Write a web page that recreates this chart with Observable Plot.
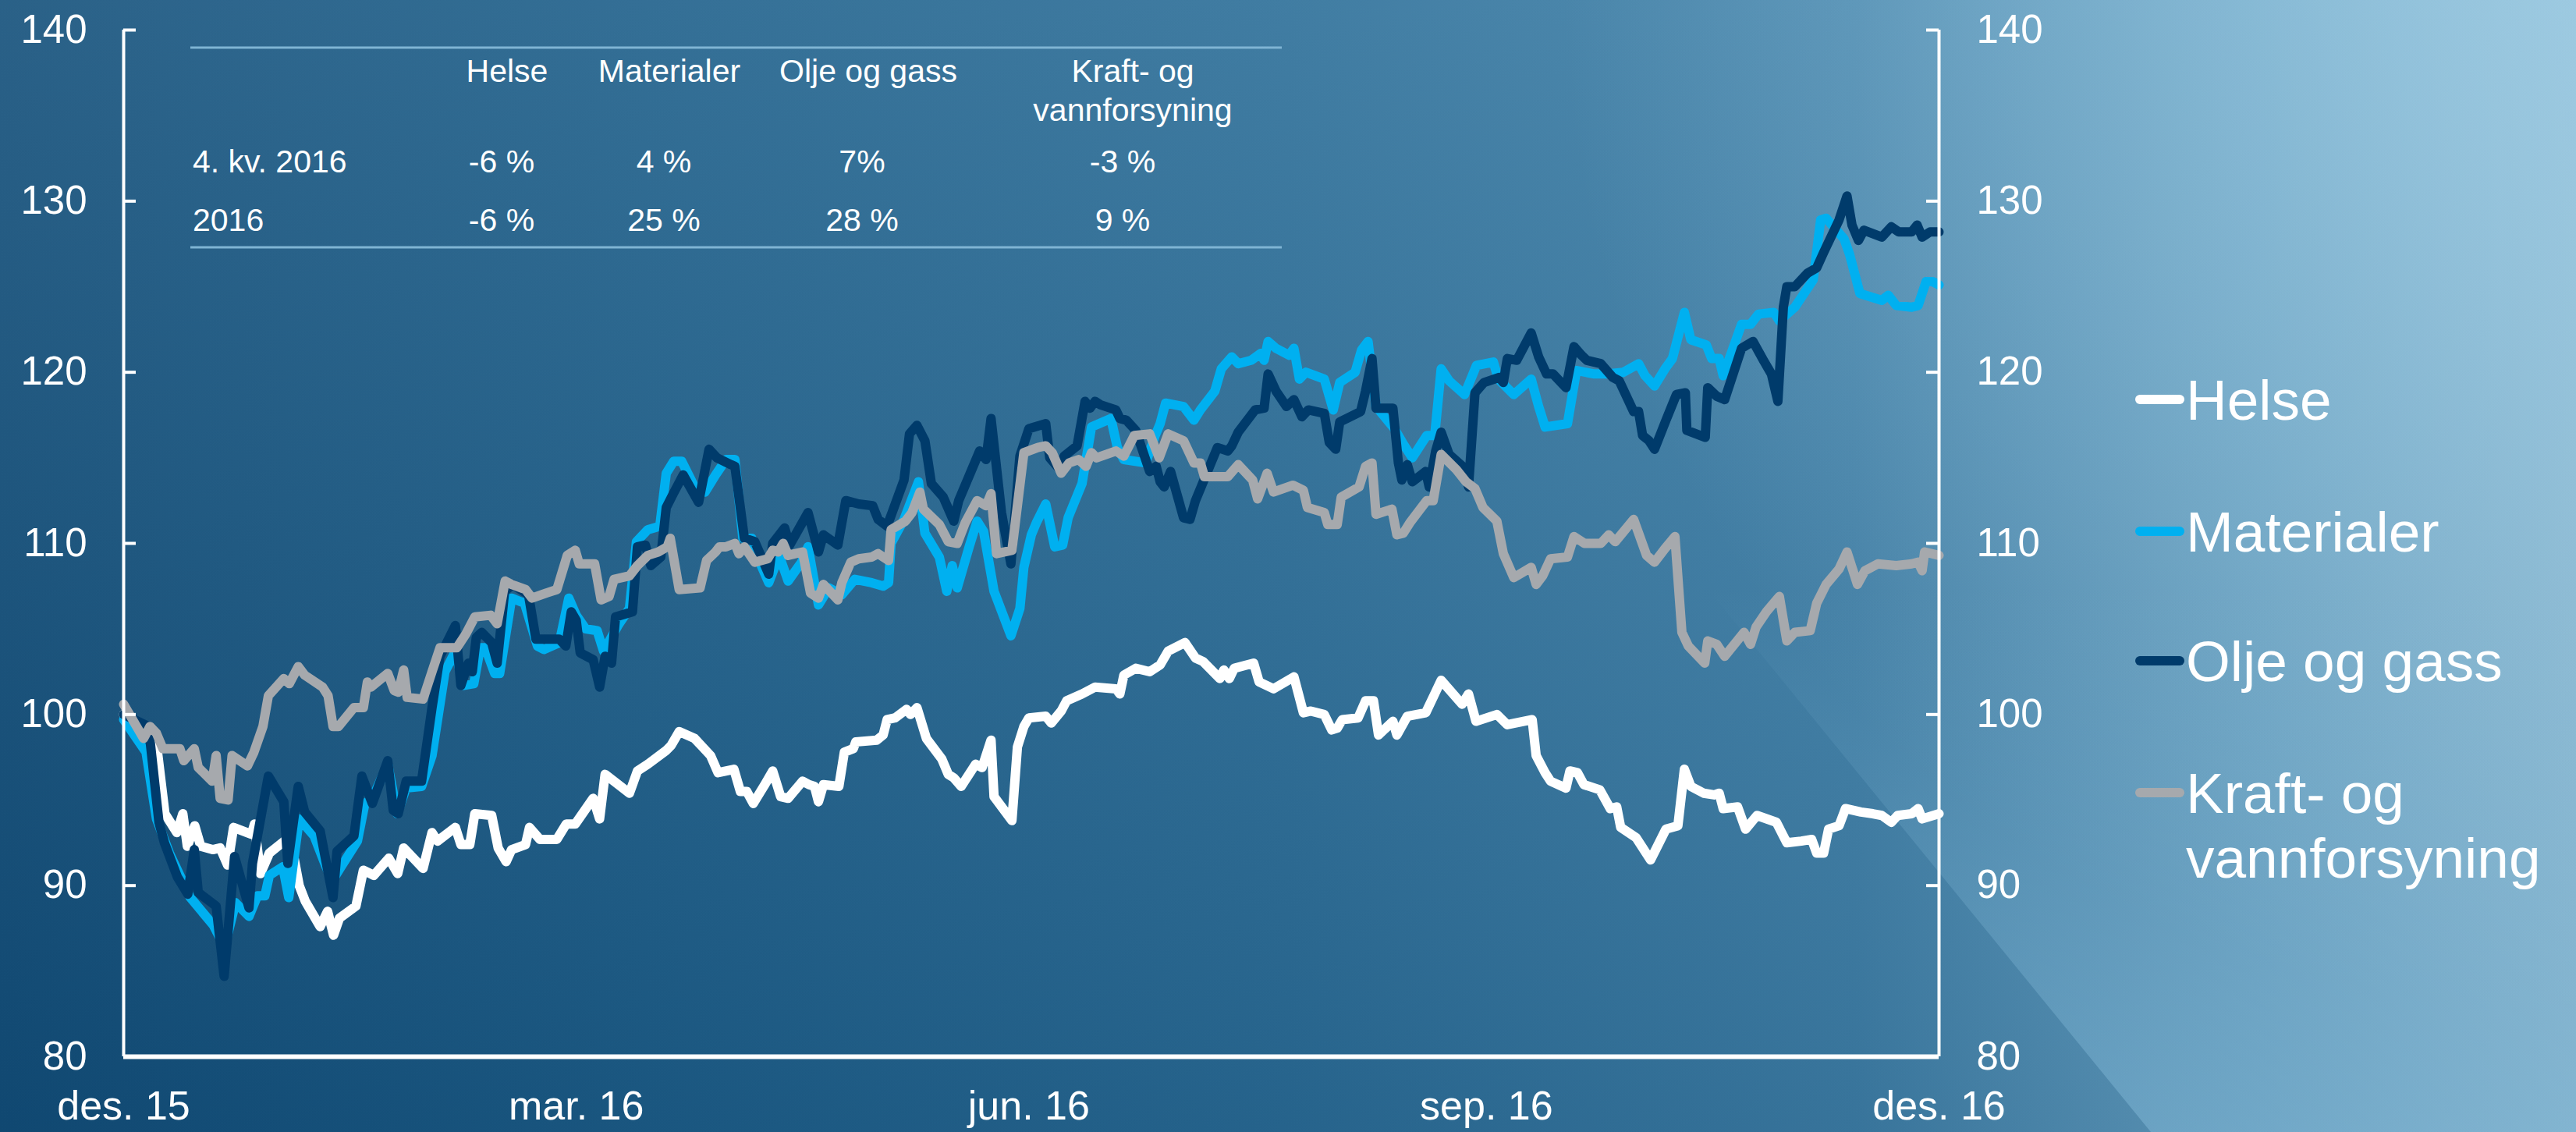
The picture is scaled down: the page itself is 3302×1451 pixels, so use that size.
<!DOCTYPE html>
<html><head><meta charset="utf-8">
<script src="https://cdn.jsdelivr.net/npm/d3@7"></script>
<script src="https://cdn.jsdelivr.net/npm/@observablehq/plot@0.6"></script>
<style>
html,body{margin:0;padding:0;}
body{width:3302px;height:1451px;overflow:hidden;position:relative;font-family:"Liberation Sans",Arial,sans-serif;
background:
 radial-gradient(circle at 100% 0%, rgba(160,205,228,0.55) 0px, rgba(160,205,228,0) 1300px),
 linear-gradient(to bottom, rgba(255,255,255,0.10), rgba(0,20,50,0.12)),
 linear-gradient(to right, #124f7a 0%, #1d5f8a 25%, #2b6e98 50%, #3f81a9 72%, #6aa6c7 88%, #8dbfd9 100%);}
#shade{position:absolute;left:0;top:0;width:3302px;height:1451px;clip-path:polygon(1573px 0,3302px 0,3302px 1451px,2757px 1451px);background:linear-gradient(to bottom, rgba(140,195,225,0) 52%, rgba(140,195,225,0.42) 100%);}
#chart{position:absolute;left:0;top:0;}
#overlay{position:absolute;left:0;top:0;}
</style></head>
<body>
<div id="shade"></div>
<div id="chart"></div>
<svg id="overlay" width="3302" height="1451"></svg>
<script>
// Day offsets since 31.12.2015, index value (31.12.2015 = 100)
const helse = [[0,100],[3,99.4],[5.3,98.9],[6.6,98.3],[8.3,94.2],[10.7,93.1],[11.9,94.2],[12.8,92.3],[14.3,93.5],[15.5,92.3],[17.9,92.1],[19.4,92.2],[20.9,91.2],[22.1,93.4],[25.7,93],[26.3,93.6],[27.5,90.7],[29.3,91.9],[32.3,92.6],[33.5,92.8],[35.3,90],[36.5,89.1],[39.5,87.6],[41,88.5],[42.2,87.1],[43.4,88.1],[46.7,88.8],[48.2,90.9],[50.3,90.6],[53.3,91.6],[55.1,90.7],[56.3,92.2],[60.2,91],[62,93.1],[63.1,92.6],[66.7,93.4],[67.8,92.4],[69.6,92.4],[70.6,94.2],[74,94.1],[75.3,92.2],[76.9,91.4],[78,92.1],[80.8,92.4],[81.6,93.4],[83.7,92.7],[87.1,92.7],[89,93.6],[90.8,93.6],[94.4,95.1],[95.7,93.9],[96.8,96.5],[101.7,95.4],[103.3,96.7],[105.4,97.1],[109.1,97.9],[110.1,98.2],[111.7,99],[114.8,98.6],[116.4,98.1],[118,97.6],[119.5,96.6],[122.7,96.8],[124,95.5],[125.3,95.5],[126.6,94.8],[128.9,95.9],[130.5,96.7],[132.1,95.2],[133.6,95.1],[136.5,96.1],[137.8,95.9],[138.9,95.8],[139.7,94.9],[140.7,95.9],[143.8,95.8],[144.9,97.8],[146.7,98],[147.2,98.4],[151.4,98.5],[152.7,98.8],[153.5,99.7],[155.1,99.8],[157.4,100.3],[158.2,100],[159.5,100.4],[161.4,98.6],[164.5,97.4],[165.8,96.5],[166.9,96.3],[168.4,95.8],[171.3,97.1],[172.6,96.9],[174.4,98.5],[175,95.2],[178.6,93.8],[179.7,98.1],[181,99.3],[182,99.8],[185.4,99.9],[186.5,99.5],[188.5,100.2],[189.6,100.8],[192.7,101.2],[195.3,101.6],[199.5,101.5],[200.3,101.2],[201.1,102.3],[203.5,102.7],[206.3,102.5],[208.4,102.9],[210,103.7],[213.4,104.2],[215.5,103.3],[217,103.1],[220.4,102.1],[221.2,102.6],[222.3,102.1],[223.3,102.7],[227.2,103],[228.3,101.9],[231.2,101.5],[235.3,102.2],[237.2,100.1],[238.7,100.2],[241.4,100],[242.9,99.1],[244,99.2],[245,99.7],[248.2,99.8],[249.7,100.8],[251.3,100.8],[252.3,98.8],[255.2,99.6],[256,98.8],[258.1,99.9],[261.8,100.1],[263.6,101.2],[264.9,102],[269.1,100.6],[270.4,101.2],[271.9,99.6],[276.1,100],[278.2,99.4],[283.2,99.7],[284,97.6],[285.8,96.6],[286.9,96.1],[290,95.7],[290.8,96.7],[292.3,96.6],[293.6,95.9],[296.8,95.6],[298.9,94.5],[300.2,94.6],[301,93.4],[304.1,92.8],[307,91.5],[310.1,93.3],[312.5,93.5],[313.8,96.8],[315.1,95.8],[317.7,95.4],[319.8,95.3],[320.8,95.4],[321.6,94.5],[324.5,94.6],[326.1,93.3],[328.4,94.1],[332.3,93.7],[334.4,92.5],[337.3,92.6],[339.4,92.7],[340.4,91.9],[341.8,91.9],[342.8,93.3],[344.9,93.5],[346.2,94.5],[349.3,94.3],[351.7,94.2],[353.5,94.1],[355.4,93.7],[356.7,94.1],[359.5,94.2],[360.8,94.5],[361.6,93.9],[365,94.2]];

const materialer = [[0,99.7],[4.5,97.8],[6.6,93.9],[9.2,91.9],[13.4,89.3],[18,87.7],[20.3,86.4],[22.5,89],[25.2,88.2],[26.9,89.4],[28.4,89.4],[29.3,90.6],[32,91.1],[33.2,89.3],[35.3,93.9],[38.3,92.9],[40.7,91.1],[42,90.3],[43.7,91.1],[47,92.6],[48.5,94.8],[50,95.1],[53.1,97.1],[55,94.2],[56.8,95.7],[59.9,95.8],[62,97.6],[64.6,102.5],[66.7,103.7],[68.3,101.7],[70.4,101.8],[71.7,103.9],[72.7,103.9],[74.6,102.4],[75.6,102.4],[78,106.8],[80.6,106.5],[83.2,104],[84.5,103.8],[87.6,104.2],[89.5,106.8],[91,105.8],[92.9,105],[95.2,104.9],[96.5,103.7],[99.4,105.2],[101.7,106.2],[103.1,110.1],[105.4,110.8],[107.8,111],[109.1,114.1],[110.6,114.8],[112.2,114.8],[114.8,113.3],[116.9,113],[119,114],[121.1,114.9],[122.9,114.9],[124.5,110.3],[126.3,110.3],[127.9,108.9],[129.7,107.7],[131.8,109.3],[133.6,107.8],[136.3,108.9],[137.6,109.8],[139.7,106.4],[141.8,107.4],[144.4,107],[147,107.9],[150.4,107.7],[152.7,107.5],[153.8,107.7],[154.3,110],[156.9,111.4],[159.8,113.6],[161.1,110.6],[164,109.2],[165.5,107.2],[166.6,108.7],[167.6,107.4],[170,109.8],[171.6,111.3],[172.9,110.7],[175,107.2],[178.4,104.6],[180.2,106.2],[181,108.6],[182.5,110.5],[183.5,111.2],[185.4,112.3],[187.2,109.8],[188.8,109.9],[189.9,111.5],[192.7,113.5],[194.6,116.8],[198.5,117.3],[199.8,115.6],[201.1,114.9],[205.5,114.7],[207.4,116.3],[208.4,117],[209.5,118.2],[213.1,118],[215.2,117.2],[216.5,117.8],[219.4,118.9],[220.7,120.2],[222.8,120.9],[224.1,120.5],[226.7,120.7],[228.6,121.1],[229.3,120.7],[230.1,121.8],[231.7,121.4],[234.3,121],[235.3,121.4],[236.4,119.6],[237.7,120],[241.4,119.6],[243.2,117.8],[244.5,119.4],[247.6,120],[248.9,121.3],[250.2,121.8],[251.8,118],[255.5,116.7],[257.3,115.8],[259.1,115],[262,116.3],[263.6,116.3],[264.9,120.2],[266.5,119.5],[269.6,118.7],[272,120.4],[275.4,120.6],[276.4,119.6],[279.5,118.7],[283,119.6],[284.5,118],[285.8,116.8],[290.3,117],[292.1,120.1],[295.7,119.9],[298.1,119.9],[301.5,120],[304.6,120.5],[305.9,119.8],[307.8,119.2],[309.9,120.2],[311.4,120.8],[313.8,123.5],[315.1,121.9],[318.2,121.6],[319.3,120.8],[320.8,120.8],[321.6,119.8],[325.3,122.8],[327.1,122.8],[328.7,123.4],[331.8,123.5],[332.9,123],[336,123.8],[339.7,125.4],[341.2,128.9],[342.3,129],[345.9,127.8],[347,126.9],[349.1,124.6],[353.5,124.2],[354.8,124.5],[356.4,123.9],[359.5,123.8],[360.8,123.9],[362.4,125.3],[363.7,125.3],[365,125.1]];

const oljeOgGass = [[0,100],[5,99.3],[7.1,93.7],[8.2,92.5],[10.8,90.5],[12.9,89.5],[14.2,92.1],[15,89.6],[18.6,88.8],[20.2,84.7],[22.3,91.7],[25.2,88.7],[25.9,91.3],[29.1,96.4],[32.2,94.9],[33,91.3],[35.1,95.8],[36.4,94.3],[39.5,93.2],[42.1,89.3],[42.9,92],[46.3,92.9],[47.9,96.4],[50,94.8],[53.1,97.3],[54.2,94.4],[55.2,94.2],[56.8,96.1],[59.9,96.1],[62,100.4],[63.6,103.4],[66.7,105.2],[67.8,101.7],[69.3,103],[70.1,102.5],[70.9,104.5],[72,104.8],[74,104.2],[75.1,103],[76.6,107.2],[78.2,107.6],[81.4,107],[82.9,104.4],[87.6,104.4],[88.9,104],[90,106],[91,105.5],[91.8,103.6],[94.4,103.2],[95.7,101.6],[96.8,103.4],[98.1,103],[98.9,105.7],[102.3,106],[103.3,109.8],[104.9,109.9],[106,108.7],[108,109.2],[109.1,112.1],[110.5,112.9],[112.5,114],[115.6,112.4],[117.7,115.5],[119.3,115],[122.1,114.6],[122.9,114.5],[124.8,110.3],[126.9,110.1],[129.7,108.2],[130.5,110],[132.9,110.9],[133.9,109.9],[137.6,111.8],[139.7,109.5],[140.7,110.5],[143.6,109.9],[145.2,112.5],[147.8,112.3],[150.6,112.2],[151.7,111.4],[153.5,111],[156.9,113.7],[158,116.4],[159.5,116.9],[161.1,116],[162.4,113.5],[164.8,112.7],[166.9,111.3],[167.9,112.5],[172.1,115.4],[173.4,114.9],[174.4,117.3],[176.5,111.8],[178.4,108.8],[180.2,115.1],[182,116.7],[185.4,117],[186.2,115],[188,114.4],[189.1,115.1],[191.7,115.7],[193.3,118.3],[194.3,117.9],[195.3,118.3],[196.4,118.1],[199.5,117.8],[200.3,117.3],[201.6,117.2],[203.5,116.6],[206.3,114.2],[207.6,114.5],[208.4,113.6],[209.2,113.3],[210.5,114.2],[213.1,111.5],[214.4,111.4],[215.5,112.5],[219.9,115.6],[222,115.4],[222.8,115.7],[224.1,116.5],[227.5,117.8],[229.3,117.9],[230.1,119.9],[231.7,118.9],[233.8,118],[235.3,118.4],[236.9,117.4],[238.2,117.8],[241.4,117.6],[242.4,115.9],[243.7,115.5],[244.5,117.1],[248.7,117.7],[249.7,118.9],[251,120.8],[251.8,117.9],[255.2,117.9],[256.3,114.7],[257,113.7],[258.1,114.6],[259.1,113.6],[261.8,114.2],[262.5,113.3],[263.8,115.4],[264.9,116.5],[266.5,115.2],[269.6,114.4],[270.4,113.3],[271.7,118.8],[273.5,119.4],[276.6,119.7],[277.4,119.4],[278.2,120.8],[280.1,120.7],[283,122.3],[284.5,120.9],[286.1,119.9],[287.4,119.9],[290,119.1],[291.6,121.5],[293.1,121],[294.2,120.7],[297,120.5],[299.4,119.7],[300.7,119.5],[303.6,117.7],[304.6,117.7],[305.4,116.3],[306.7,116],[307.8,115.5],[310.1,117.2],[312.2,118.7],[314,118.8],[314.3,116.6],[318,116.2],[318.5,119.1],[320.3,118.6],[321.9,118.4],[325.3,121.4],[327.6,121.8],[329.7,120.7],[331.3,119.9],[332.6,118.3],[333.7,123.8],[334.4,125],[336,125],[338.6,125.8],[340.4,126.1],[341.8,127],[344.9,128.9],[346.5,130.3],[347.5,128.6],[348.8,127.7],[349.9,128.3],[353.5,127.9],[355.4,128.5],[356.9,128.2],[359.5,128.2],[360.6,128.6],[361.6,127.9],[363.2,128.2],[365,128.2]];

const kraft = [[0,100.6],[4,98.6],[5.3,99.3],[6.6,98.9],[7.9,98],[11.3,98],[12.1,97.3],[14.2,98],[15,96.9],[17.8,96.1],[18.6,97.6],[19.4,95.1],[21,95],[21.8,97.6],[24.9,97],[26.2,97.8],[28,99.3],[29.1,101.1],[32.2,102.1],[33.3,101.8],[35.1,102.8],[36.4,102.3],[40,101.6],[41.1,101.1],[42.1,99.3],[43.2,99.3],[46.3,100.4],[48.2,100.4],[49,101.9],[49.7,101.6],[53.1,102.4],[54.4,101.4],[55.2,101.3],[56.3,102.6],[57,101],[60.2,100.9],[62,102.5],[63.6,103.9],[67,103.9],[68.8,104.7],[70.6,105.7],[73.8,105.8],[75.1,105.3],[76.7,107.8],[78,107.6],[80.8,107.3],[82.1,106.8],[85,107.1],[87.1,107.3],[89.2,109.3],[90.8,109.6],[91.6,108.8],[94.7,108.8],[96,106.7],[97.6,106.9],[98.6,107.9],[101.7,108.1],[103.3,108.7],[105.4,109.3],[107.5,109.5],[109.3,109.8],[109.9,110.3],[111.7,107.3],[115.9,107.4],[117.2,109],[119,109.5],[119.8,109.8],[121.1,109.8],[122.9,110],[123.7,109.4],[124.8,109.8],[126.9,108.9],[129.5,109.1],[130.5,109.6],[131.6,109.5],[132.6,110],[133.6,109.3],[136.5,109.5],[138.1,107.1],[139.7,106.8],[140.7,107.6],[143.6,106.7],[144.4,107.7],[146.2,108.9],[147.8,109.1],[150.4,109.2],[151.7,109.4],[153.8,109],[154.3,110.8],[157.2,111.3],[158.5,111.8],[160.1,113],[160.8,112],[164,111.1],[165.8,110.1],[167.6,110],[169.2,111.2],[171.6,112.5],[173.4,112.2],[174.4,112.9],[175.5,109.4],[178.6,109.6],[181,115.3],[183.8,115.6],[185.4,115.7],[186.7,115.3],[188.5,114.1],[190.1,114.7],[192,114.9],[193.5,114.5],[194.6,115.3],[195.6,115],[199.5,115.4],[201.1,115.1],[203.2,116.3],[206.3,116.4],[208.2,115],[210,116.4],[213.1,116],[215.2,114.7],[216.5,114.7],[217.3,113.9],[222,113.9],[224.1,114.6],[227,113.7],[228,112.6],[229.9,114.1],[231.2,113],[235.1,113.4],[237.2,113.1],[238,112.1],[241.4,111.8],[242.1,111.1],[244,111.1],[244.8,112.7],[248.4,113.3],[249.7,114.5],[251,114.7],[251.8,111.7],[255,112],[256,110.5],[257.3,110.6],[258.6,111.2],[262,112.5],[263.3,112.5],[264.9,115.2],[268,114.3],[269.9,113.6],[271.7,113.2],[273.3,112.1],[276.1,111.3],[277.4,109.4],[279.5,108],[283,108.6],[284,107.6],[285.3,108.1],[286.9,109.1],[290.3,109.2],[291.6,110.4],[293.7,110],[297,110],[298.6,110.5],[299.9,110.1],[303.6,111.4],[306.2,109.3],[307.8,108.9],[309.9,109.7],[311.9,110.4],[313.3,104.8],[314.6,104],[317.9,103],[318.5,104.3],[320.3,104.1],[321.9,103.4],[325.8,104.8],[327.1,104.1],[328.2,105.1],[330.3,106],[332.9,106.9],[334.4,104.3],[336,104.8],[339.1,104.9],[340.4,106.5],[342.3,107.6],[344.9,108.5],[346.5,109.5],[348.6,107.6],[350.1,108.4],[352.7,108.8],[356.4,108.7],[359.5,108.8],[360.8,108.9],[361.6,108.4],[362.1,109.5],[365,109.3]];

const seriesNames = ["Helse", "Materialer", "Olje og gass", "Kraft- og vannforsyning"];
const legendLines = [["Helse"], ["Materialer"], ["Olje og gass"], ["Kraft- og", "vannforsyning"]];
const seriesColors = ["#ffffff", "#00b0f0", "#003b6b", "#a6a9ad"];
const seriesValues = [helse, materialer, oljeOgGass, kraft];

const xTickDays = [0, 91, 182, 274, 365];
const xTickLabels = ["des. 15", "mar. 16", "jun. 16", "sep. 16", "des. 16"];
const yTicks = [80, 90, 100, 110, 120, 130, 140];

const tableHeader = [["Helse"], ["Materialer"], ["Olje og gass"], ["Kraft- og", "vannforsyning"]];
const tableRowLabels = ["4. kv. 2016", "2016"];
const tableValues = [["-6 %", "4 %", "7%", "-3 %"], ["-6 %", "25 %", "28 %", "9 %"]];

// ---------- chart ----------
const startMs = Date.UTC(2015, 11, 31);
const toDate = d => new Date(startMs + d * 864e5);
const rows = seriesNames.flatMap((name, i) =>
  seriesValues[i].map(([d, v]) => ({series: name, date: toDate(d), value: v})));
const tickLabelByTime = new Map(xTickDays.map((d, i) => [+toDate(d), xTickLabels[i]]));

const W = 2700, H = 1451, mL = 158, mR = 215, mT = 38, mB = 97;
const innerW = W - mL - mR;
const font = "'Liberation Sans', Arial, sans-serif";

const chart = Plot.plot({
  width: W, height: H,
  marginLeft: mL, marginRight: mR, marginTop: mT, marginBottom: mB,
  style: {background: "none", color: "#fff", fontFamily: font, overflow: "visible"},
  x: {type: "utc", domain: [toDate(0), toDate(365)]},
  y: {domain: [80, 140]},
  color: {domain: seriesNames, range: seriesColors},
  marks: [
    Plot.axisY({anchor: "left", ticks: yTicks, tickSize: 0, tickPadding: 47, fontSize: 51, fill: "#fff", label: null}),
    Plot.axisY({anchor: "right", ticks: yTicks, tickSize: 0, tickPadding: 48, fontSize: 51, fill: "#fff", label: null}),
    Plot.axisX({ticks: xTickDays.map(toDate), tickFormat: d => tickLabelByTime.get(+d), tickSize: 0, tickPadding: 44, fontSize: 52, fill: "#fff", label: null}),
    Plot.line(rows, {x: "date", y: "value", z: "series", stroke: "series", strokeWidth: 12,
      strokeLinejoin: "round", strokeLinecap: "round"}),
    Plot.ruleX([toDate(0), toDate(365)], {stroke: "#fff", strokeWidth: 4}),
    Plot.ruleY([80], {stroke: "#fff", strokeWidth: 6}),
    Plot.tickY(yTicks, {y: d => d, stroke: "#fff", strokeWidth: 4, insetRight: innerW - 16}),
    Plot.tickY(yTicks, {y: d => d, stroke: "#fff", strokeWidth: 4, insetLeft: innerW - 16})
  ]
});
document.getElementById("chart").appendChild(chart);

// ---------- table + legend overlay ----------
const svg = d3.select("#overlay").style("font-family", font);
const tbl = svg.append("g").attr("fill", "#fff").attr("font-size", 41);
[61, 317].forEach(y => svg.append("line").attr("x1", 244).attr("x2", 1643).attr("y1", y).attr("y2", y)
  .attr("stroke", "#7fb4d3").attr("stroke-width", 3));
const headerX = [650, 858, 1113, 1452];
const valueX = [643, 851, 1105, 1439];
tableHeader.forEach((lines, i) => lines.forEach((t, j) =>
  tbl.append("text").attr("x", headerX[i]).attr("y", 105 + j * 50).attr("text-anchor", "middle").text(t)));
tableRowLabels.forEach((t, r) => {
  const y = [221, 296][r];
  tbl.append("text").attr("x", 247).attr("y", y).text(t);
  tableValues[r].forEach((v, i) => tbl.append("text").attr("x", valueX[i]).attr("y", y).attr("text-anchor", "middle").text(v));
});

const leg = svg.append("g");
const legY = [512, 681, 847, 1016];
legendLines.forEach((lines, i) => {
  leg.append("line").attr("x1", 2743).attr("x2", 2794).attr("y1", legY[i]).attr("y2", legY[i])
    .attr("stroke", seriesColors[i]).attr("stroke-width", 12).attr("stroke-linecap", "round");
  lines.forEach((t, j) => leg.append("text").attr("x", 2802).attr("y", legY[i] + 26 + j * 83)
    .attr("fill", "#fff").attr("font-size", 73).text(t));
});
</script>
</body></html>
